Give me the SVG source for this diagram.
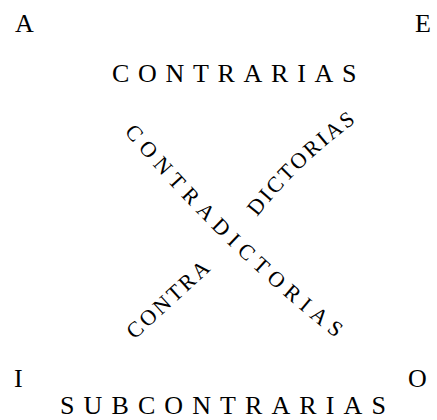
<svg xmlns="http://www.w3.org/2000/svg" xmlns:xlink="http://www.w3.org/1999/xlink" width="437" height="420" viewBox="0 0 437 420">
<style>
text{font-family:"Liberation Serif","Times New Roman",serif;fill:#000}
.corner{font-size:26px}
.big{font-size:26px}
.diag{font-size:22px}
</style>
<defs>
<path id="p1" d="M124,132 Q225,252 338,340"/>
<path id="p2" d="M134.5,340 L213,268"/>
<path id="p3" d="M257,217 Q299.3,163 360,119"/>
</defs>
<rect width="437" height="420" fill="#fff"/>
<g id="connectors"/>
<g id="node-A"><text class="corner" x="15" y="32">A</text></g>
<g id="node-E"><text class="corner" x="415" y="32">E</text></g>
<g id="node-I"><text class="corner" x="14" y="387">I</text></g>
<g id="node-O"><text class="corner" x="408" y="387">O</text></g>
<g id="label-contrarias"><text class="big" x="112" y="82" letter-spacing="8.7">CONTRARIAS</text></g>
<g id="label-subcontrarias"><text class="big" x="60" y="414" letter-spacing="9.1">SUBCONTRARIAS</text></g>
<g id="label-contradictorias-1"><text class="diag" letter-spacing="6.3"><textPath xlink:href="#p1" href="#p1">CONTRADICTORIAS</textPath></text></g>
<g id="label-contradictorias-2">
<text class="diag" letter-spacing="2.7"><textPath xlink:href="#p2" href="#p2">CONTRA</textPath></text>
<text class="diag" letter-spacing="2.6"><textPath xlink:href="#p3" href="#p3">DICTORIAS</textPath></text>
</g>
</svg>
